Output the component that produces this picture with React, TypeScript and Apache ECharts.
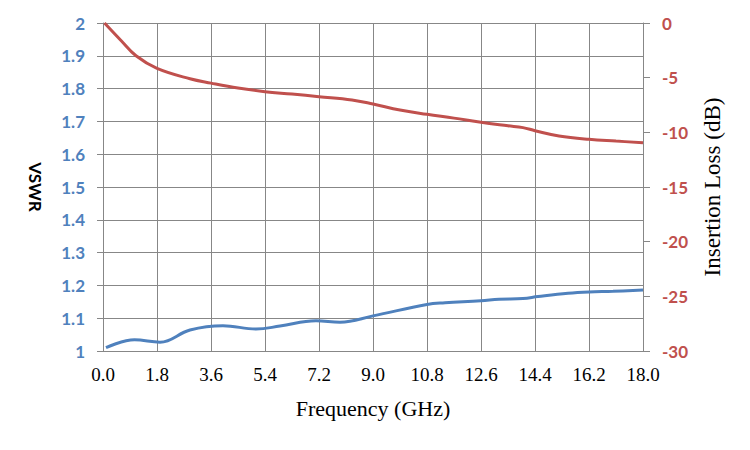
import React, { useEffect, useRef } from "react";
import * as echarts from "echarts";

// Frequency (GHz) / VSWR pairs
const vswrFreq = [0.1, 1.05, 1.9, 2.9, 4.0, 5.1, 5.9, 7.1, 7.9, 9.0, 10.8, 11.4, 12.6, 13.2, 14.0, 14.5, 15.5, 16.2, 17.0, 18.0];
const vswrValues = [1.01, 1.034, 1.027, 1.064, 1.077, 1.067, 1.076, 1.092, 1.088, 1.107, 1.142, 1.147, 1.153, 1.158, 1.16, 1.166, 1.176, 1.18, 1.182, 1.186];

// Frequency (GHz) / Insertion loss (dB) pairs
const ilFreq = [0.05, 0.6, 1.1, 1.8, 2.9, 3.6, 4.5, 5.4, 6.3, 7.2, 8.3, 9.0, 9.9, 10.8, 11.7, 12.6, 13.5, 14.0, 14.4, 15.2, 16.2, 17.1, 18.0];
const ilValues = [0, -1.6, -3.0, -4.15, -5.1, -5.5, -5.95, -6.28, -6.5, -6.74, -7.04, -7.41, -7.96, -8.35, -8.7, -9.08, -9.4, -9.57, -9.85, -10.33, -10.64, -10.8, -10.95];

const xTitle = "Frequency (GHz)";
const leftTitle = "VSWR";
const rightTitle = "Insertion Loss (dB)";

const BLUE = "#4F81BD";
const RED = "#C0504D";
const GRID = "#878787";

export default function App() {
  const ref = useRef<HTMLDivElement>(null);
  useEffect(() => {
    if (!ref.current) return;
    const chart = echarts.init(ref.current, null, { renderer: "svg" });
    const serifFont = "'Liberation Serif', serif";
    const sansFont = "Lato, 'Liberation Sans', sans-serif";
    chart.setOption({
      animation: false,
      backgroundColor: "#ffffff",
      grid: { left: 103, right: 107, top: 23, bottom: 99, containLabel: false },
      xAxis: {
        type: "value",
        min: 0,
        max: 18,
        interval: 1.8,
        name: xTitle,
        nameLocation: "middle",
        nameGap: 46,
        nameTextStyle: { fontFamily: serifFont, fontSize: 22, color: "#000" },
        axisLine: { show: true, lineStyle: { color: GRID, width: 1 } },
        axisTick: { show: true, inside: false, length: 7, lineStyle: { color: GRID } },
        axisLabel: {
          margin: 14,
          fontFamily: serifFont,
          fontSize: 19,
          color: "#000",
          formatter: (v: number) => v.toFixed(1),
        },
        splitLine: { show: true, lineStyle: { color: GRID, width: 1 } },
      },
      yAxis: [
        {
          type: "value",
          min: 1,
          max: 2,
          interval: 0.1,
          position: "left",
          name: leftTitle,
          nameLocation: "middle",
          nameRotate: -90,
          nameGap: 59,
          nameTextStyle: { fontFamily: sansFont, fontSize: 17, fontWeight: "bold", color: "#000" },
          axisLine: { show: true, lineStyle: { color: GRID, width: 1 } },
          axisTick: { show: true, inside: false, length: 6, lineStyle: { color: GRID } },
          axisLabel: {
            margin: 18,
            fontFamily: sansFont,
            fontSize: 17,
            fontWeight: "bold",
            color: BLUE,
            formatter: (v: number) => String(Math.round(v * 10) / 10),
          },
          splitLine: { show: true, lineStyle: { color: GRID, width: 1 } },
        },
        {
          type: "value",
          min: -30,
          max: 0,
          interval: 5,
          position: "right",
          name: rightTitle,
          nameLocation: "middle",
          nameRotate: 90,
          nameGap: 58,
          nameTextStyle: { fontFamily: serifFont, fontSize: 23, color: "#000" },
          axisLine: { show: true, lineStyle: { color: GRID, width: 1 } },
          axisTick: { show: true, inside: false, length: 7, lineStyle: { color: GRID } },
          axisLabel: {
            margin: 19,
            fontFamily: sansFont,
            fontSize: 17,
            fontWeight: "bold",
            color: RED,
          },
          splitLine: { show: false },
        },
      ],
      series: [
        {
          name: leftTitle,
          type: "line",
          yAxisIndex: 0,
          smooth: 0.4,
          showSymbol: false,
          lineStyle: { color: BLUE, width: 3 },
          data: vswrFreq.map((f, i) => [f, vswrValues[i]]),
        },
        {
          name: rightTitle,
          type: "line",
          yAxisIndex: 1,
          smooth: 0.4,
          showSymbol: false,
          lineStyle: { color: RED, width: 3 },
          data: ilFreq.map((f, i) => [f, ilValues[i]]),
        },
      ],
    });
    return () => chart.dispose();
  }, []);
  return (
    <div
      ref={ref}
      style={{ position: "fixed", left: 0, top: 0, width: 750, height: 450, background: "#fff" }}
    />
  );
}
